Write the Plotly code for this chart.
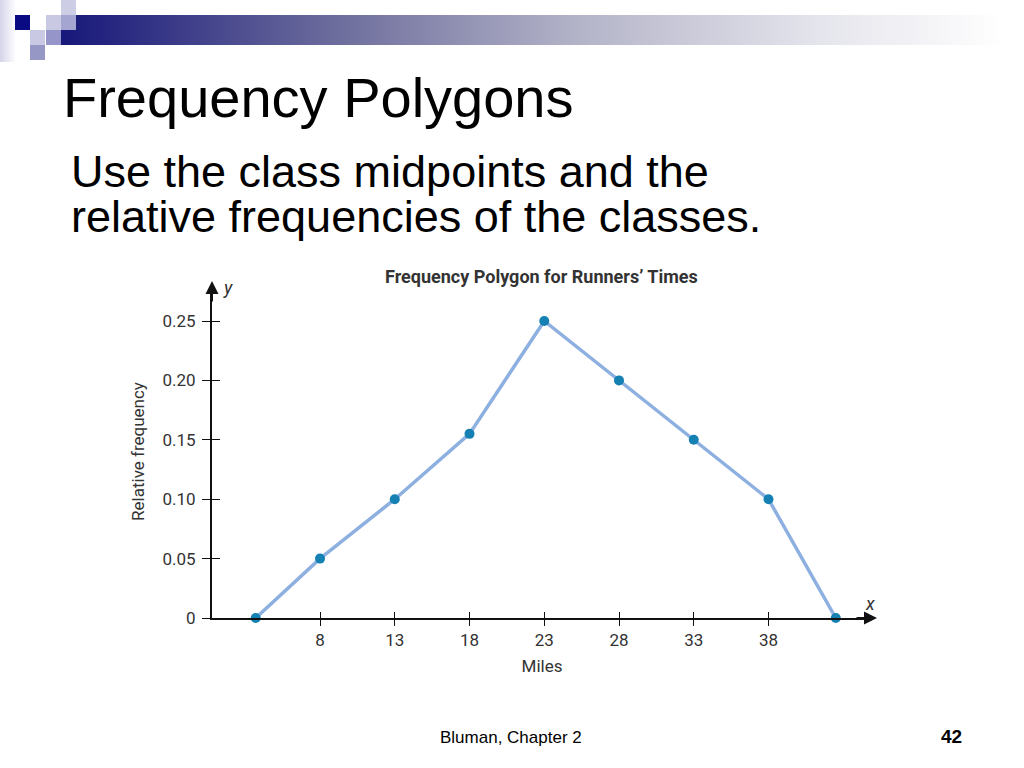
import plotly.graph_objects as go

# class midpoints (miles) and relative frequencies
miles = [3.7, 8, 13, 18, 23, 28, 33, 38, 42.5]
rel_freq = [0, 0.05, 0.10, 0.155, 0.25, 0.20, 0.15, 0.10, 0]

x_ticks = [8, 13, 18, 23, 28, 33, 38]
y_ticks = [0, 0.05, 0.10, 0.15, 0.20, 0.25]
y_tick_labels = ["0", "0.05", "0.10", "0.15", "0.20", "0.25"]

W, H = 1024, 768
narrow = "Roboto, Liberation Sans, sans-serif"
slide_font = "Liberation Sans, Arial, sans-serif"


def px(x):
    return x / W


def py(y):
    return 1 - y / H


# plot box in page pixels
X0, X1 = 212, 872
Y0, Y1 = 618, 285
unit_x = 14.95  # px per mile
unit_y = 59.4 / 0.05  # px per frequency unit
x_range = [8 - (320 - X0) / unit_x, 8 + (X1 - 320) / unit_x]
y_range = [0, (Y0 - Y1) / unit_y]

fig = go.Figure()

# slide decoration: gradient band
fig.add_trace(go.Scatter(
    x=[61, 1005, 1005, 61, 61], y=[15, 15, 45, 45, 15],
    xaxis="x3", yaxis="y3", mode="lines", line=dict(width=0),
    fill="toself",
    fillgradient=dict(type="horizontal",
                      colorscale=[[0, "#17177a"], [0.3, "#6f6f9e"],
                                  [0.55, "#b4b4c9"], [0.8, "#e4e4ec"],
                                  [1, "#ffffff"]]),
    hoverinfo="skip", showlegend=False))
fig.add_trace(go.Scatter(
    x=[0, 16, 16, 0, 0], y=[0, 0, 62, 62, 0],
    xaxis="x3", yaxis="y3", mode="lines", line=dict(width=0),
    fill="toself",
    fillgradient=dict(type="horizontal",
                      colorscale=[[0, "#d4d4ea"], [1, "#ffffff"]]),
    hoverinfo="skip", showlegend=False))

fig.add_trace(go.Scatter(
    x=miles, y=rel_freq, mode="lines+markers",
    line=dict(color="#8db0e0", width=3.5),
    marker=dict(color="#1580b2", size=10),
    cliponaxis=False, showlegend=False))

# dummy trace so the overlay axes (for inner tick halves) get drawn
fig.add_trace(go.Scatter(x=[None], y=[None], xaxis="x2", yaxis="y2",
                         showlegend=False))

squares = [
    (15, 15, "#0a0a82"),
    (46, 15, "#c9c9e3"),
    (61, 0, "#cdcde5"),
    (61, 15, "#a5a5d2"),
    (30, 30, "#c9c9e3"),
    (46, 30, "#9595c9"),
    (30, 45, "#9797c6"),
]
shapes = []
for sx, sy, c in squares:
    shapes.append(dict(type="rect", xref="x3", yref="y3", x0=sx, x1=sx + 15,
                       y0=sy, y1=sy + 15, fillcolor=c, line=dict(width=0),
                       layer="above"))

axis_common = dict(showgrid=False, zeroline=False, showline=True,
                   linecolor="#111111", linewidth=2, ticks="outside",
                   tickwidth=1.3, tickcolor="#111111", automargin=False)

annotations = [
    dict(text="Frequency Polygons", x=px(61), y=py(98), xref="paper",
         yref="paper", xanchor="left", yanchor="middle", showarrow=False,
         font=dict(family=slide_font, size=56, color="black")),
    dict(text="Use the class midpoints and the", x=px(69), y=py(171),
         xref="paper", yref="paper", xanchor="left", yanchor="middle",
         showarrow=False, font=dict(family=slide_font, size=45, color="black")),
    dict(text="relative frequencies of the classes.", x=px(69), y=py(217),
         xref="paper", yref="paper", xanchor="left", yanchor="middle",
         showarrow=False, font=dict(family=slide_font, size=45, color="black")),
    dict(text="<b>Frequency Polygon for Runners’ Times</b>", x=px(541),
         y=py(276), xref="paper", yref="paper", xanchor="center",
         yanchor="middle", showarrow=False,
         font=dict(family=narrow, size=18, color="#333333")),
    dict(text="Bluman, Chapter 2", x=px(511), y=py(737), xref="paper",
         yref="paper", xanchor="center", yanchor="middle", showarrow=False,
         font=dict(family=slide_font, size=17, color="black")),
    dict(text="<b>42</b>", x=px(951), y=py(736), xref="paper", yref="paper",
         xanchor="center", yanchor="middle", showarrow=False,
         font=dict(family=slide_font, size=19, color="black")),
    # axis arrowheads
    dict(text="", x=px(X0), y=py(281), xref="paper", yref="paper",
         showarrow=True, ax=0, ay=22, arrowhead=2, arrowsize=1.3,
         arrowwidth=2, arrowcolor="#111111"),
    dict(text="", x=px(877), y=py(Y0), xref="paper", yref="paper",
         showarrow=True, ax=-22, ay=0, arrowhead=2, arrowsize=1.3,
         arrowwidth=2, arrowcolor="#111111"),
    dict(text="<i>y</i>", x=px(228), y=py(287), xref="paper", yref="paper",
         xanchor="center", yanchor="middle", showarrow=False,
         font=dict(family=narrow, size=18, color="#333333")),
    dict(text="<i>x</i>", x=px(870), y=py(603), xref="paper", yref="paper",
         xanchor="center", yanchor="middle", showarrow=False,
         font=dict(family=narrow, size=18, color="#333333")),
]

fig.update_layout(
    width=W, height=H, autosize=False,
    margin=dict(l=0, r=0, t=0, b=0, autoexpand=False),
    paper_bgcolor="white", plot_bgcolor="rgba(0,0,0,0)",
    font=dict(family=narrow, size=15, color="#333333"),
    xaxis=dict(domain=[px(X0), px(X1)], range=x_range, tickvals=x_ticks,
               ticklen=6, tickfont=dict(size=17),
               title=dict(text="Miles", standoff=11, font=dict(size=17)),
               **axis_common),
    yaxis=dict(domain=[py(Y0), py(Y1)], range=y_range, tickvals=y_ticks,
               ticktext=y_tick_labels, ticklen=8, tickfont=dict(size=17),
               ticklabelstandoff=3,
               title=dict(text="Relative frequency", standoff=13,
                          font=dict(size=17)),
               **axis_common),
    xaxis2=dict(domain=[px(X0), px(X1)], range=x_range, tickvals=x_ticks,
                overlaying="x", anchor="y2", showticklabels=False,
                showgrid=False, zeroline=False, showline=False,
                ticks="inside", ticklen=6, tickwidth=1.3,
                tickcolor="#111111", automargin=False),
    yaxis2=dict(domain=[py(Y0), py(Y1)], range=y_range, tickvals=y_ticks,
                overlaying="y", anchor="x2", showticklabels=False,
                showgrid=False, zeroline=False, showline=False,
                ticks="inside", ticklen=8, tickwidth=1.3,
                tickcolor="#111111", automargin=False),
    xaxis3=dict(domain=[0, 1], range=[0, W], visible=False, anchor="y3",
                fixedrange=True, automargin=False),
    yaxis3=dict(domain=[0, 1], range=[H, 0], visible=False, anchor="x3",
                fixedrange=True, automargin=False),
    shapes=shapes,
    annotations=annotations,
)

fig.write_html("out.html", config={"displayModeBar": False},
               post_script="document.body.style.margin='0';")
